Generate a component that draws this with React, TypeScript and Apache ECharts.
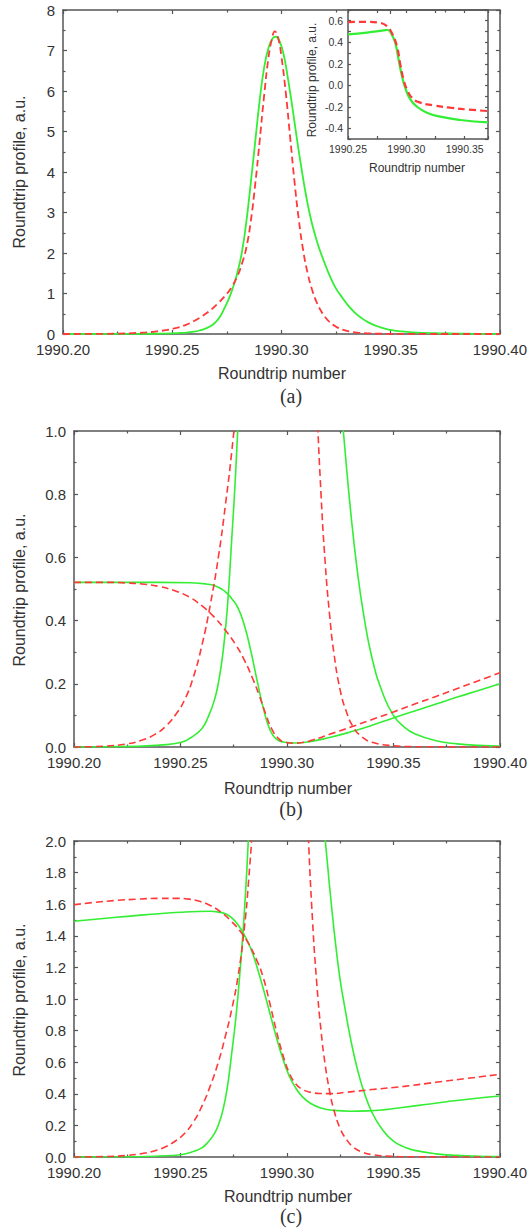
import React, { useEffect, useRef } from "react";
import * as echarts from "echarts";

// ---- data ----
const xTicksMain = [1990.2, 1990.25, 1990.3, 1990.35, 1990.4];

// pulse profiles (the same two pulses are shown in panels a, b, c)
const pulseGreen: number[][] = [
  [1990.2, 0], [1990.23, 0.002], [1990.24, 0.006], [1990.25, 0.014], [1990.255, 0.03],
  [1990.26, 0.058], [1990.263, 0.095], [1990.266, 0.15], [1990.268, 0.21], [1990.27, 0.3],
  [1990.272, 0.44], [1990.274, 0.65], [1990.276, 0.88], [1990.278, 1.18], [1990.28, 1.55],
  [1990.282, 2.05], [1990.284, 2.8], [1990.286, 3.75], [1990.288, 4.75], [1990.29, 5.75],
  [1990.292, 6.55], [1990.294, 7.05], [1990.296, 7.3], [1990.2975, 7.34], [1990.299, 7.25],
  [1990.301, 6.9], [1990.303, 6.3], [1990.305, 5.6], [1990.307, 4.85], [1990.309, 4.15],
  [1990.311, 3.5], [1990.313, 2.95], [1990.315, 2.52], [1990.317, 2.16], [1990.319, 1.86],
  [1990.321, 1.58], [1990.323, 1.33], [1990.325, 1.12], [1990.327, 0.96], [1990.33, 0.74],
  [1990.333, 0.56], [1990.336, 0.42], [1990.34, 0.28], [1990.345, 0.17], [1990.35, 0.1],
  [1990.355, 0.064], [1990.36, 0.042], [1990.37, 0.02], [1990.38, 0.01], [1990.39, 0.005],
  [1990.4, 0.003],
];
const pulseRed: number[][] = [
  [1990.2, 0], [1990.215, 0.003], [1990.225, 0.01], [1990.232, 0.022], [1990.238, 0.04],
  [1990.243, 0.065], [1990.248, 0.105], [1990.252, 0.15], [1990.256, 0.22], [1990.26, 0.32],
  [1990.264, 0.45], [1990.268, 0.61], [1990.271, 0.76], [1990.274, 0.93], [1990.277, 1.14],
  [1990.28, 1.45], [1990.282, 1.75], [1990.284, 2.15], [1990.286, 2.8], [1990.288, 3.7],
  [1990.29, 4.75], [1990.292, 5.85], [1990.294, 6.8], [1990.2955, 7.25], [1990.297, 7.47],
  [1990.2985, 7.3], [1990.3, 6.85], [1990.302, 5.95], [1990.304, 4.85], [1990.306, 3.75],
  [1990.308, 2.8], [1990.31, 2.05], [1990.312, 1.5], [1990.314, 1.1], [1990.316, 0.8],
  [1990.318, 0.58], [1990.32, 0.42], [1990.322, 0.3], [1990.325, 0.18], [1990.328, 0.11],
  [1990.331, 0.065], [1990.335, 0.033], [1990.34, 0.015], [1990.35, 0.004], [1990.36, 0.001],
  [1990.4, 0],
];

// inset of panel (a)
const insetGreen: number[][] = [
  [1990.25, 0.474], [1990.2663, 0.49], [1990.2806, 0.51], [1990.284, 0.514], [1990.2877, 0.468],
  [1990.2906, 0.39], [1990.2934, 0.237], [1990.2963, 0.083], [1990.2991, -0.025], [1990.3034, -0.132],
  [1990.3091, -0.2], [1990.3177, -0.255], [1990.3291, -0.292], [1990.3463, -0.323], [1990.37, -0.345],
];
const insetRed: number[][] = [
  [1990.25, 0.588], [1990.2663, 0.59], [1990.2777, 0.58], [1990.2834, 0.55], [1990.2877, 0.483],
  [1990.292, 0.36], [1990.2949, 0.19], [1990.2977, 0.052], [1990.3006, -0.04], [1990.3049, -0.117],
  [1990.3106, -0.157], [1990.3234, -0.188], [1990.3377, -0.209], [1990.352, -0.225], [1990.37, -0.24],
];

// panel (b) slow curves
const bGreenTail: number[][] = [
  [1990.2, 0.521], [1990.24, 0.521], [1990.255, 0.52], [1990.262, 0.516], [1990.267, 0.508],
  [1990.271, 0.492], [1990.274, 0.47], [1990.277, 0.44], [1990.28, 0.385], [1990.283, 0.305],
  [1990.286, 0.21], [1990.289, 0.12], [1990.292, 0.055], [1990.295, 0.025], [1990.299, 0.015],
  [1990.304, 0.0126], [1990.31, 0.016], [1990.32, 0.03], [1990.33, 0.048], [1990.34, 0.069],
  [1990.35, 0.092], [1990.36, 0.114], [1990.37, 0.136], [1990.38, 0.158], [1990.39, 0.179],
  [1990.4, 0.2],
];
const bRedTail: number[][] = [
  [1990.2, 0.521], [1990.215, 0.521], [1990.225, 0.519], [1990.233, 0.515], [1990.24, 0.508],
  [1990.247, 0.495], [1990.254, 0.475], [1990.26, 0.447], [1990.266, 0.41], [1990.271, 0.37],
  [1990.276, 0.323], [1990.28, 0.275], [1990.284, 0.215], [1990.287, 0.163], [1990.29, 0.105],
  [1990.293, 0.055], [1990.296, 0.027], [1990.299, 0.015], [1990.303, 0.012], [1990.307, 0.014],
  [1990.312, 0.022], [1990.32, 0.04], [1990.33, 0.063], [1990.34, 0.087], [1990.35, 0.111],
  [1990.36, 0.136], [1990.37, 0.16], [1990.38, 0.185], [1990.39, 0.21], [1990.4, 0.235],
];

// panel (c) slow curves
const cGreenTail: number[][] = [
  [1990.2, 1.492], [1990.21, 1.505], [1990.22, 1.517], [1990.23, 1.529], [1990.24, 1.54],
  [1990.25, 1.549], [1990.258, 1.554], [1990.264, 1.555], [1990.268, 1.55], [1990.271, 1.54],
  [1990.274, 1.515], [1990.277, 1.47], [1990.28, 1.405], [1990.283, 1.32], [1990.286, 1.2],
  [1990.289, 1.06], [1990.292, 0.91], [1990.295, 0.76], [1990.298, 0.625], [1990.301, 0.515],
  [1990.304, 0.44], [1990.307, 0.385], [1990.311, 0.34], [1990.316, 0.31], [1990.322, 0.295],
  [1990.33, 0.29], [1990.338, 0.292], [1990.346, 0.3], [1990.355, 0.315], [1990.365, 0.332],
  [1990.375, 0.35], [1990.387, 0.369], [1990.4, 0.386],
];
const cRedTail: number[][] = [
  [1990.2, 1.597], [1990.21, 1.612], [1990.22, 1.624], [1990.23, 1.632], [1990.24, 1.637],
  [1990.248, 1.637], [1990.254, 1.632], [1990.259, 1.618], [1990.264, 1.592], [1990.269, 1.55],
  [1990.274, 1.49], [1990.278, 1.43], [1990.282, 1.35], [1990.286, 1.24], [1990.289, 1.13],
  [1990.292, 0.97], [1990.295, 0.8], [1990.298, 0.65], [1990.301, 0.535], [1990.304, 0.465],
  [1990.307, 0.43], [1990.311, 0.41], [1990.316, 0.402], [1990.321, 0.401], [1990.328, 0.41],
  [1990.34, 0.427], [1990.355, 0.447], [1990.37, 0.473], [1990.385, 0.498], [1990.4, 0.523],
];

const axisTitleX = "Roundtrip number";
const axisTitleY = "Roundtrip profile, a.u.";
const captions = ["(a)", "(b)", "(c)"];

// ---- styling ----
const GREEN = "#33ee33";
const RED = "#ff3838";
const AXIS = "#555";
const TEXT = "#333";
const SANS = "'Liberation Sans', Arial, sans-serif";
const SERIF = "'Liberation Serif', 'Times New Roman', serif";

function xAxis(grid: number, min: number, max: number, interval: number, pos: string, labels: boolean, fs: number, minor: boolean, fmt: (v: number) => string) {
  const big = fs > 12;
  return {
    type: "value", gridIndex: grid, min, max, interval, position: pos,
    axisLine: { show: true, onZero: false, lineStyle: { color: AXIS, width: 1.5 } },
    axisTick: { show: true, inside: true, length: big ? 4 : 3, lineStyle: { color: AXIS, width: 1.2 } },
    minorTick: { show: minor, splitNumber: 2, length: 2.5, lineStyle: { color: AXIS, width: 1.2 } },
    splitLine: { show: false },
    axisLabel: { show: labels, fontSize: fs, lineHeight: big ? 11 : 10, color: TEXT, fontFamily: SANS, margin: big ? 10 : 5, formatter: fmt },
  };
}
function yAxis(grid: number, min: number, max: number, interval: number, pos: string, labels: boolean, fs: number, minor: boolean, fmt: (v: number) => string) {
  const big = fs > 12;
  return {
    type: "value", gridIndex: grid, min, max, interval, position: pos,
    axisLine: { show: true, onZero: false, lineStyle: { color: AXIS, width: 1.5 } },
    axisTick: { show: true, inside: true, length: big ? 4 : 3, lineStyle: { color: AXIS, width: 1.2 } },
    minorTick: { show: minor, splitNumber: 2, length: 2.5, lineStyle: { color: AXIS, width: 1.2 } },
    splitLine: { show: false },
    axisLabel: { show: labels, fontSize: fs, lineHeight: big ? 12 : 10, color: TEXT, fontFamily: SANS, margin: big ? 8 : 5, formatter: fmt },
  };
}

const fmtX2 = (v: number) => v.toFixed(2);
const fmtInt = (v: number) => String(Math.round(v));
const fmt1 = (v: number) => v.toFixed(1);
const fmtInsetX = (v: number) => {
  const k = Math.round(v * 1000);
  return k % 50 === 0 ? v.toFixed(2) : "";
};
const fmtInsetY = (v: number) => {
  const k = Math.round(v * 10);
  return k % 2 === 0 ? (k / 10).toFixed(1) : "";
};

function line(name: string, data: number[][], xi: number, yi: number, color: string, dashed: boolean, width: number) {
  return {
    name, type: "line", data, xAxisIndex: xi, yAxisIndex: yi, showSymbol: false, symbol: "none",
    smooth: 0.5, clip: true,
    lineStyle: { color, width, type: dashed ? [7, 4] : "solid" },
  };
}

function text(t: string, x: number, y: number, fs: number, rot: number, family: string) {
  return {
    type: "text", x, y, rotation: rot,
    style: {
      text: t, fontSize: fs, fontFamily: family, fill: TEXT,
      align: "center", verticalAlign: "middle", textAlign: "center", textVerticalAlign: "middle",
    },
  };
}

export default function App() {
  const ref = useRef<HTMLDivElement>(null);
  useEffect(() => {
    document.body.style.margin = "0";
    if (!ref.current) return;
    const chart = echarts.init(ref.current, null, { renderer: "svg" });
    const grids = [
      { left: 63, top: 10, width: 438, height: 324 },
      { left: 348, top: 10, width: 140, height: 129, show: true, backgroundColor: "#fff", borderWidth: 0 },
      { left: 74, top: 431, width: 427, height: 316 },
      { left: 74, top: 841, width: 427, height: 316 },
    ];
    const xMin = xTicksMain[0];
    const xMax = xTicksMain[xTicksMain.length - 1];
    const xAxes = [
      xAxis(0, xMin, xMax, 0.05, "bottom", true, 15, true, fmtX2),
      xAxis(0, xMin, xMax, 0.05, "top", false, 15, true, fmtX2),
      xAxis(1, 1990.25, 1990.37, 0.025, "bottom", true, 10.5, false, fmtInsetX),
      xAxis(1, 1990.25, 1990.37, 0.025, "top", false, 10.5, false, fmtInsetX),
      xAxis(2, xMin, xMax, 0.05, "bottom", true, 15, true, fmtX2),
      xAxis(2, xMin, xMax, 0.05, "top", false, 15, true, fmtX2),
      xAxis(3, xMin, xMax, 0.05, "bottom", true, 15, true, fmtX2),
      xAxis(3, xMin, xMax, 0.05, "top", false, 15, true, fmtX2),
    ];
    const yAxes = [
      yAxis(0, 0, 8, 1, "left", true, 15, true, fmtInt),
      yAxis(0, 0, 8, 1, "right", false, 15, true, fmtInt),
      yAxis(1, -0.5, 0.7, 0.1, "left", true, 10.5, false, fmtInsetY),
      yAxis(1, -0.5, 0.7, 0.1, "right", false, 10.5, false, fmtInsetY),
      yAxis(2, 0, 1, 0.2, "left", true, 15, true, fmt1),
      yAxis(2, 0, 1, 0.2, "right", false, 15, true, fmt1),
      yAxis(3, 0, 2, 0.2, "left", true, 15, true, fmt1),
      yAxis(3, 0, 2, 0.2, "right", false, 15, true, fmt1),
    ];
    const series = [
      line("a green", pulseGreen, 0, 0, GREEN, false, 1.8),
      line("a red", pulseRed, 0, 0, RED, true, 1.8),
      line("inset green", insetGreen, 2, 2, GREEN, false, 2.2),
      line("inset red", insetRed, 2, 2, RED, true, 2.2),
      line("b green pulse", pulseGreen, 4, 4, GREEN, false, 1.6),
      line("b green tail", bGreenTail, 4, 4, GREEN, false, 1.6),
      line("b red pulse", pulseRed, 4, 4, RED, true, 1.6),
      line("b red tail", bRedTail, 4, 4, RED, true, 1.6),
      line("c green pulse", pulseGreen, 6, 6, GREEN, false, 1.6),
      line("c green tail", cGreenTail, 6, 6, GREEN, false, 1.6),
      line("c red pulse", pulseRed, 6, 6, RED, true, 1.6),
      line("c red tail", cRedTail, 6, 6, RED, true, 1.6),
    ];
    const graphic = [
      text(axisTitleY, 19, 172, 16, Math.PI / 2, SANS),
      text(axisTitleX, 282, 373, 16, 0, SANS),
      text(captions[0], 291, 396, 20, 0, SERIF),
      text(axisTitleY, 312, 80, 12, Math.PI / 2, SANS),
      text(axisTitleX, 417, 168, 12, 0, SANS),
      text(axisTitleY, 19, 590, 16, Math.PI / 2, SANS),
      text(axisTitleX, 288, 788, 16, 0, SANS),
      text(captions[1], 291, 809, 20, 0, SERIF),
      text(axisTitleY, 19, 1000, 16, Math.PI / 2, SANS),
      text(axisTitleX, 288, 1196, 16, 0, SANS),
      text(captions[2], 291, 1216, 20, 0, SERIF),
    ];
    chart.setOption({
      animation: false,
      backgroundColor: "#fff",
      grid: grids,
      xAxis: xAxes,
      yAxis: yAxes,
      series,
      graphic,
    } as any);
    return () => chart.dispose();
  }, []);
  return <div ref={ref} style={{ width: 530, height: 1230 }} />;
}
